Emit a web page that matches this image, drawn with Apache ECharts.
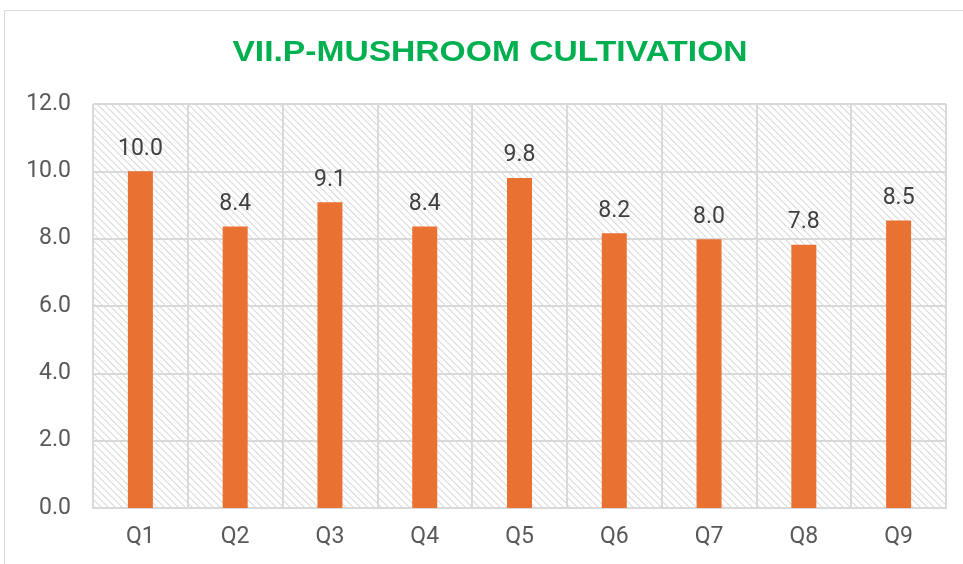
<!DOCTYPE html>
<html><head><meta charset="utf-8">
<script src="https://cdn.jsdelivr.net/npm/echarts@6/dist/echarts.min.js"></script>
<style>html,body{margin:0;padding:0;background:#fff}#c{width:963px;height:564px}</style>
</head><body><div id="c"></div>
<script>
const categories = ['Q1','Q2','Q3','Q4','Q5','Q6','Q7','Q8','Q9'];
const values = [10.0, 8.36, 9.08, 8.36, 9.8, 8.16, 7.98, 7.82, 8.54];
const yTicks = {min: 0, max: 12, interval: 2};
const titleText = 'VII.P-MUSHROOM CULTIVATION';

function hatch() {
  const c = document.createElement('canvas');
  c.width = 7; c.height = 7;
  const g = c.getContext('2d');
  g.fillStyle = '#ffffff'; g.fillRect(0,0,7,7);
  g.strokeStyle = '#dadada'; g.lineWidth = 1.1;
  g.beginPath();
  g.moveTo(-2,-2); g.lineTo(9,9);
  g.moveTo(-2,5); g.lineTo(2,9);
  g.moveTo(5,-2); g.lineTo(9,2);
  g.stroke();
  return c;
}
const FONT = 'Roboto, "Liberation Sans", sans-serif';
const chart = echarts.init(document.getElementById('c'));
chart.setOption({
  animation: false,
  graphic: [
    {type: 'rect', shape: {x: 4.5, y: 10.5, width: 970, height: 570}, style: {fill: 'none', stroke: '#d9d9d9', lineWidth: 1}, silent: true, z: -10},
    {type: 'text', x: 490, y: 53, scaleX: 1.12, style: {text: titleText, fill: '#00B050', fontSize: 30, fontWeight: 'bold', fontFamily: '"Liberation Sans", Arial, sans-serif', align: 'center', verticalAlign: 'middle'}, silent: true}
  ],
  grid: {left: 93, right: 17, top: 104, bottom: 56, show: true, backgroundColor: {image: hatch(), repeat: 'repeat'}, borderWidth: 0},
  xAxis: {
    type: 'category', data: categories,
    axisLine: {show: true, lineStyle: {color: '#d9d9d9', width: 2}},
    axisTick: {show: false},
    splitLine: {show: true, lineStyle: {color: '#d9d9d9', width: 2}},
    axisLabel: {color: '#595959', fontSize: 23, margin: 18, fontFamily: FONT}
  },
  yAxis: {
    type: 'value', min: yTicks.min, max: yTicks.max, interval: yTicks.interval,
    axisLine: {show: false}, axisTick: {show: false},
    splitLine: {lineStyle: {color: '#d9d9d9', width: 2}},
    axisLabel: {color: '#595959', fontSize: 23, margin: 22, formatter: v => v.toFixed(1), fontFamily: FONT}
  },
  series: [{
    type: 'bar', data: values, barWidth: 25,
    itemStyle: {color: '#E97132'},
    label: {show: true, position: 'top', distance: 11, color: '#404040', fontSize: 23, formatter: p => p.value.toFixed(1), fontFamily: FONT}
  }]
});
</script></body></html>
